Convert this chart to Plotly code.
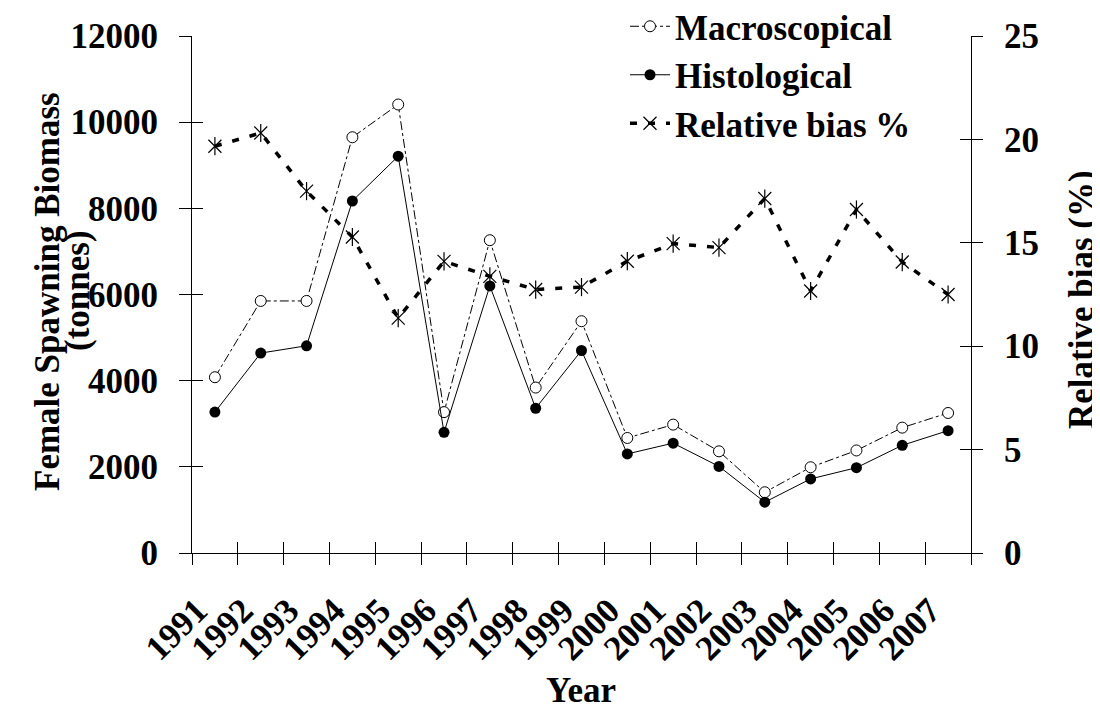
import plotly.graph_objects as go

years = ["1991", "1992", "1993", "1994", "1995", "1996", "1997", "1998", "1999",
         "2000", "2001", "2002", "2003", "2004", "2005", "2006", "2007"]
macroscopical = [4080, 5850, 5850, 9650, 10410, 3270, 7260, 3840, 5380,
                 2670, 2980, 2360, 1410, 1990, 2380, 2910, 3250]
histological = [3270, 4640, 4810, 8170, 9210, 2800, 6200, 3360, 4700,
                2300, 2550, 2010, 1180, 1720, 1980, 2500, 2840]
relative_bias = [19.67, 20.31, 17.50, 15.28, 11.36, 14.10, 13.38, 12.74, 12.86,
                 14.11, 14.96, 14.77, 17.14, 12.67, 16.61, 14.07, 12.50]

left_ticks = [0, 2000, 4000, 6000, 8000, 10000, 12000]
left_labels = ["0", "2000", "4000", "6000", "8000", "10000", "12000"]
right_ticks = [0, 5, 10, 15, 20, 25]
right_labels = ["0", "5", "10", "15", "20", "25"]

FONT = "Liberation Serif, Times New Roman, serif"
FS = 35
xr = [-0.5, len(years) - 0.5]
yr_left = [0, 12000]
yr_right = [0, 25]

# page has an 8px body margin; plot area targets x 192..971, y 36..553 on screen
OFF = 8
PL, PR, PT, PB = 192, 971, 36, 553
W, H = 1100 - OFF, 720 - OFF
PW, PH = PR - PL, PB - PT

def px_x(v):
    return (v - PL) / PW

def px_y(v):
    return (PB - v) / PH

fig = go.Figure()

fig.add_trace(go.Scatter(
    x=years, y=macroscopical, name="Macroscopical", mode="lines+markers",
    line=dict(color="black", width=1, dash="dashdot"),
    marker=dict(symbol="circle", size=11, color="white", line=dict(color="black", width=1)),
    xaxis="x", yaxis="y"))
fig.add_trace(go.Scatter(
    x=years, y=histological, name="Histological", mode="lines+markers",
    line=dict(color="black", width=1),
    marker=dict(symbol="circle", size=11, color="black"),
    xaxis="x2", yaxis="y3"))
fig.add_trace(go.Scatter(
    x=years, y=relative_bias, name="Relative bias %", mode="lines+markers",
    line=dict(color="black", width=3.5, dash="7px,11px"),
    marker=dict(symbol="x-thin-open", size=13, color="black", line=dict(color="black", width=1.2)),
    xaxis="x", yaxis="y2"))
fig.add_trace(go.Scatter(
    x=years, y=relative_bias, name="Relative bias %", mode="markers", showlegend=False,
    marker=dict(symbol="line-ns-open", size=13, color="black", line=dict(color="black", width=1.2)),
    xaxis="x2", yaxis="y4"))

tickfont = dict(family=FONT, size=FS, color="black", weight="bold")

fig.update_layout(
    width=W, height=H,
    margin=dict(l=PL - OFF, r=W + OFF - PR, t=PT - OFF, b=H + OFF - PB, autoexpand=False),
    paper_bgcolor="white", plot_bgcolor="white",
    font=dict(family=FONT, color="black"),
    showlegend=True,
    legend=dict(x=px_x(625), y=px_y(-3), xanchor="left", yanchor="top",
                bgcolor="rgba(0,0,0,0)", font=dict(family=FONT, size=FS, color="black", weight="bold"),
                itemwidth=40, tracegroupgap=0),
    xaxis=dict(type="category", categoryorder="array", categoryarray=years, range=xr,
               tickson="boundaries", ticks="outside", ticklen=11, tickcolor="black", tickwidth=1,
               showline=True, linecolor="black", linewidth=1, showgrid=False, zeroline=False,
               tickangle=-45, tickfont=tickfont, ticklabelstandoff=22, ticklabelshift=-18,
               automargin=False),
    xaxis2=dict(type="category", categoryorder="array", categoryarray=years, range=xr,
                overlaying="x", anchor="y", side="bottom",
                tickson="boundaries", ticks="inside", ticklen=11, tickcolor="black", tickwidth=1,
                showticklabels=False, showline=False, showgrid=False, zeroline=False),
    yaxis=dict(range=yr_left, tickvals=left_ticks, ticktext=left_labels, ticks="outside",
               ticklen=12, tickcolor="black",
               showline=True, linecolor="black", linewidth=1, showgrid=False, zeroline=False,
               tickfont=tickfont, ticklabelstandoff=14, automargin=False),
    yaxis3=dict(range=yr_left, tickvals=left_ticks, overlaying="y", anchor="x", side="left",
                ticks="inside", ticklen=11, tickcolor="black", showticklabels=False,
                showline=False, showgrid=False, zeroline=False),
    yaxis2=dict(range=yr_right, tickvals=right_ticks, ticktext=right_labels, overlaying="y",
                anchor="x", side="right",
                ticks="outside", ticklen=11, tickcolor="black",
                showline=True, linecolor="black", linewidth=1, showgrid=False, zeroline=False,
                tickfont=tickfont, ticklabelstandoff=14, automargin=False),
    yaxis4=dict(range=yr_right, tickvals=right_ticks, overlaying="y", anchor="x", side="right",
                ticks="inside", ticklen=11, tickcolor="black", showticklabels=False,
                showline=False, showgrid=False, zeroline=False),
)

title_font = dict(family=FONT, size=FS, color="black", weight="bold")
fig.add_annotation(text="Female Spawning Biomass", xref="paper", yref="paper",
                   x=px_x(47), y=px_y(292), xanchor="center", yanchor="middle",
                   textangle=-90, showarrow=False, font=title_font)
fig.add_annotation(text="(tonnes)", xref="paper", yref="paper",
                   x=px_x(77), y=px_y(290), xanchor="center", yanchor="middle",
                   textangle=-90, showarrow=False, font=title_font)
fig.add_annotation(text="Relative bias (%)", xref="paper", yref="paper",
                   x=px_x(1081), y=px_y(300), xanchor="center", yanchor="middle",
                   textangle=-90, showarrow=False, font=title_font)
fig.add_annotation(text="Year", xref="paper", yref="paper",
                   x=px_x(581), y=px_y(690), xanchor="center", yanchor="middle",
                   showarrow=False, font=title_font)

fig.write_html("out.html")
